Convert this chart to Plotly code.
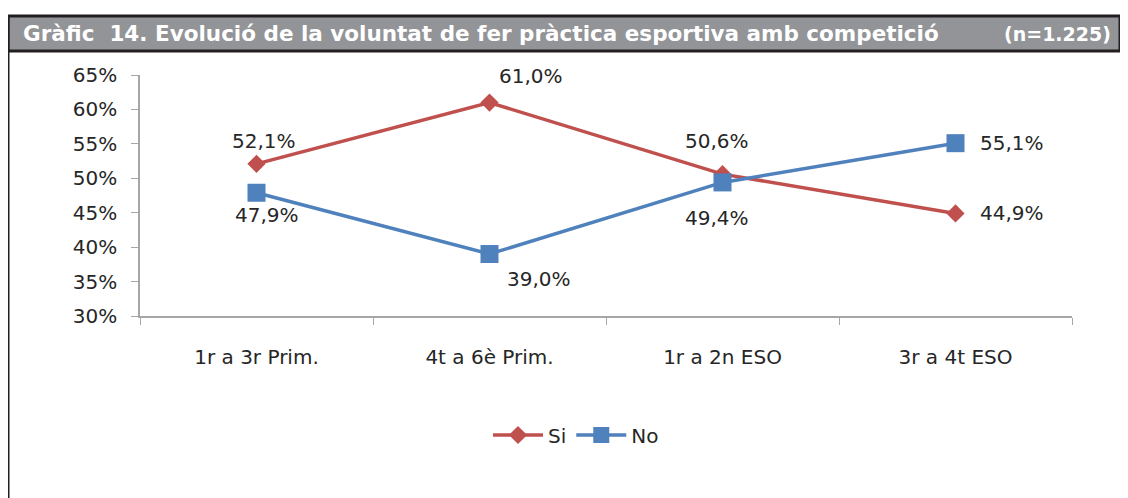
import plotly.graph_objects as go

categories = ["1r a 3r Prim.", "4t a 6è Prim.", "1r a 2n ESO", "3r a 4t ESO"]
si_values = [52.1, 61.0, 50.6, 44.9]
no_values = [47.9, 39.0, 49.4, 55.1]
y_ticks = [30, 35, 40, 45, 50, 55, 60, 65]

_RED, _BLUE, _AXIS, _TXT = "#C0504D", "#4F81BD", "#A6A6A6", "#262626"
FONT = "DejaVu Sans"
W, H = 1128, 498
OFF = 8  # page body margin shifts the figure by 8px
L, T = 140 - OFF, 75 - OFF
R, B = W - (1072 - OFF), H - (316 - OFF)


def px_x(px):
    return (px - OFF - L) / (W - L - R)


def px_y(py):
    return (H - B - (py - OFF)) / (H - T - B)


def pct(v):
    return f"{v:.1f}%".replace(".", ",")


fig = go.Figure()
fig.add_trace(go.Scatter(x=categories, y=si_values, name="Si", mode="lines+markers",
                         line=dict(color=_RED, width=3.5),
                         marker=dict(symbol="diamond", size=14, color=_RED)))
fig.add_trace(go.Scatter(x=categories, y=no_values, name="No", mode="lines+markers",
                         line=dict(color=_BLUE, width=3.5),
                         marker=dict(symbol="square", size=18, color=_BLUE)))

# data labels: (xshift, yshift) per point
si_shift = [(7, 23), (41, 27), (-6, 33), (56, 0)]
no_shift = [(10, -22), (49, -25), (-6, -36), (56, 0)]
for vals, shifts in ((si_values, si_shift), (no_values, no_shift)):
    for c, v, (dx, dy) in zip(categories, vals, shifts):
        fig.add_annotation(x=c, y=v, text=pct(v), showarrow=False, xshift=dx, yshift=dy,
                           font=dict(family=FONT, size=20, color=_TXT))

# title bar
fig.add_shape(type="rect", xref="paper", yref="paper", x0=px_x(8), x1=px_x(1120),
              y0=px_y(51), y1=px_y(16), fillcolor="#929497",
              line=dict(color="#231F20", width=3), layer="below")
fig.add_shape(type="line", xref="paper", yref="paper", x0=px_x(8), x1=px_x(8),
              y0=px_y(510), y1=px_y(16), line=dict(color="#231F20", width=3))
fig.add_annotation(xref="paper", yref="paper", x=px_x(21), y=px_y(34),
                   xanchor="left", yanchor="middle",
                   text="<b>Gràfic  14. Evolució de la voluntat de fer pràctica esportiva amb competició</b>",
                   showarrow=False, font=dict(family=FONT, size=21.5, color="white"))
fig.add_annotation(xref="paper", yref="paper", x=px_x(1113), y=px_y(34),
                   xanchor="right", yanchor="middle",
                   text="<b>(n=1.225)</b>", showarrow=False,
                   font=dict(family=FONT, size=19, color="white"))

fig.update_layout(
    width=W, height=H, margin=dict(l=L, r=R, t=T, b=B),
    plot_bgcolor="white", paper_bgcolor="white",
    font=dict(family=FONT, size=20, color=_TXT),
    showlegend=True,
    legend=dict(orientation="h", x=px_x(576), xanchor="center", y=px_y(435), yanchor="middle",
                font=dict(family=FONT, size=20, color=_TXT), itemwidth=50),
)
fig.update_xaxes(type="category", range=[-0.5, 3.5], showline=True, linecolor=_AXIS, linewidth=1.5,
                 ticks="outside", tickson="boundaries", ticklen=7, tickcolor=_AXIS,
                 showgrid=False, zeroline=False, ticklabelstandoff=22)
fig.update_yaxes(range=[30, 65], tickvals=y_ticks, ticktext=[f"{t}%" for t in y_ticks],
                 showline=True, linecolor=_AXIS, linewidth=1.5, ticks="outside", ticklen=7,
                 tickcolor=_AXIS, showgrid=False, zeroline=False, ticklabelstandoff=10)

fig.write_html("out.html")
